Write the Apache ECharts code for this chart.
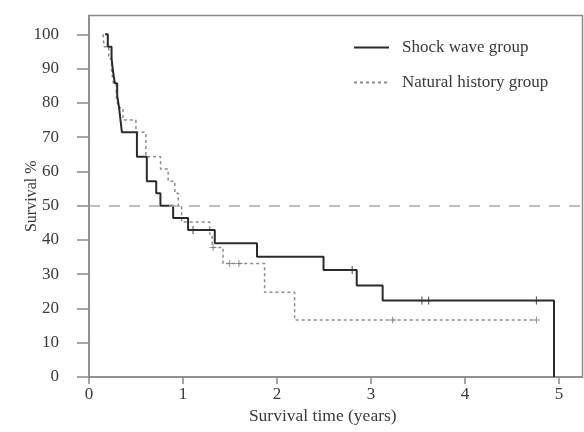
<!DOCTYPE html>
<html>
<head>
<meta charset="utf-8">
<script src="https://cdn.jsdelivr.net/npm/echarts@6/dist/echarts.min.js"></script>
<style>
  html, body { margin: 0; padding: 0; background: #fff; }
  #chart { width: 584px; height: 432px; }
</style>
</head>
<body>
<div id="chart"></div>
<script>
// Kaplan-Meier curves (time in years, survival in %)
const shockTimes = [0.17, 0.20, 0.24, 0.255, 0.275, 0.30, 0.32, 0.335, 0.35, 0.51, 0.615, 0.715, 0.76, 0.895, 1.054, 1.338, 1.787, 2.495, 2.848, 3.124, 4.947];
const shockSurv = [100, 96.4, 92.9, 89.3, 85.7, 82.1, 78.6, 75.0, 71.4, 64.3, 57.1, 53.6, 50.0, 46.4, 42.9, 39.0, 35.1, 31.2, 26.7, 22.3, 0];
const shockCensTimes = [1.107, 2.80, 3.542, 3.613, 4.76];
const shockCensSurv = [42.9, 31.2, 22.3, 22.3, 22.3];

const naturalTimes = [0.15, 0.16, 0.21, 0.24, 0.26, 0.29, 0.31, 0.361, 0.499, 0.605, 0.761, 0.842, 0.913, 0.95, 0.985, 1.284, 1.31, 1.426, 1.868, 2.187, 4.76];
const naturalSurv = [100, 96.4, 92.9, 89.3, 85.7, 82.1, 78.6, 75.0, 71.4, 64.3, 60.7, 57.1, 53.6, 50.0, 45.2, 41.7, 37.8, 33.1, 24.7, 16.6, 16.6];
const naturalCensTimes = [1.32, 1.497, 1.595, 3.23, 4.76];
const naturalCensSurv = [37.8, 33.1, 33.1, 16.6, 16.6];

const xTicks = [0, 1, 2, 3, 4, 5];
const yTicks = [0, 10, 20, 30, 40, 50, 60, 70, 80, 90, 100];

const zip = (a, b) => a.map((v, i) => [v, b[i]]);
const font = 'Liberation Serif';
const axisGray = '#8a8a8a';
const textColor = '#3a3a3a';
const plus = 'path://M3,0H4V3H7V4H4V7H3V4H0V3H3Z';

const chart = echarts.init(document.getElementById('chart'));

chart.setOption({
    backgroundColor: '#fff',
    animation: false,
    grid: {
        left: 89,
        top: 15.5,
        right: 1.5,
        bottom: 55,
        outerBoundsMode: 'none',
        show: true,
        borderColor: axisGray,
        borderWidth: 1.5
    },
    legend: {
        data: ['Shock wave group', 'Natural history group'],
        orient: 'vertical',
        left: 353,
        top: 39,
        padding: 0,
        itemWidth: 35,
        itemHeight: 14,
        itemGap: 18,
        itemStyle: { color: 'transparent', borderWidth: 0 },
        textStyle: {
            fontFamily: font,
            fontSize: 17,
            color: textColor,
            padding: [0, 0, 0, 8]
        }
    },
    xAxis: {
        type: 'value',
        min: 0,
        max: 5.25,
        name: 'Survival time (years)',
        nameLocation: 'middle',
        nameGap: 30,
        nameMoveOverlap: false,
        nameTextStyle: {
            fontFamily: font,
            fontSize: 17.5,
            color: textColor,
            padding: [0, 26, 0, 0]
        },
        axisLine: { lineStyle: { color: axisGray, width: 1.5 } },
        axisTick: {
            length: 7,
            customValues: xTicks,
            lineStyle: { color: axisGray, width: 1.5 }
        },
        axisLabel: {
            customValues: xTicks,
            fontFamily: font,
            fontSize: 17,
            color: textColor,
            margin: 9
        },
        splitLine: { show: false }
    },
    yAxis: {
        type: 'value',
        min: 0,
        max: 105.5,
        name: 'Survival %',
        nameLocation: 'middle',
        nameGap: 49,
        nameMoveOverlap: false,
        nameTextStyle: {
            fontFamily: font,
            fontSize: 16,
            color: textColor
        },
        axisLine: { lineStyle: { color: axisGray, width: 1.5 } },
        axisTick: {
            length: 12,
            customValues: yTicks,
            lineStyle: { color: axisGray, width: 1.5 }
        },
        axisLabel: {
            customValues: yTicks,
            fontFamily: font,
            fontSize: 17,
            color: textColor,
            margin: 30
        },
        splitLine: { show: false }
    },
    series: [
        {
            name: 'Natural history group',
            type: 'line',
            step: 'end',
            symbol: 'none',
            data: zip(naturalTimes, naturalSurv),
            lineStyle: { color: '#8c8c8c', width: 1.5, type: [3, 3] },
            itemStyle: { color: '#8c8c8c' },
            markLine: {
                silent: true,
                symbol: 'none',
                label: { show: false },
                lineStyle: { color: '#ababab', width: 1.5, type: [11, 9] },
                data: [{ yAxis: 50 }]
            },
            z: 2
        },
        {
            name: 'Shock wave group',
            type: 'line',
            step: 'end',
            symbol: 'none',
            data: zip(shockTimes, shockSurv),
            lineStyle: { color: '#2b2b2b', width: 2 },
            itemStyle: { color: '#2b2b2b' },
            z: 3
        },
        {
            name: 'natural censored',
            type: 'scatter',
            symbol: plus,
            symbolSize: 7,
            data: zip(naturalCensTimes, naturalCensSurv),
            itemStyle: { color: '#777' },
            z: 4
        },
        {
            name: 'shock censored',
            type: 'scatter',
            symbol: plus,
            symbolSize: 8,
            data: zip(shockCensTimes, shockCensSurv),
            itemStyle: { color: '#333' },
            z: 4
        }
    ]
});
</script>
</body>
</html>
